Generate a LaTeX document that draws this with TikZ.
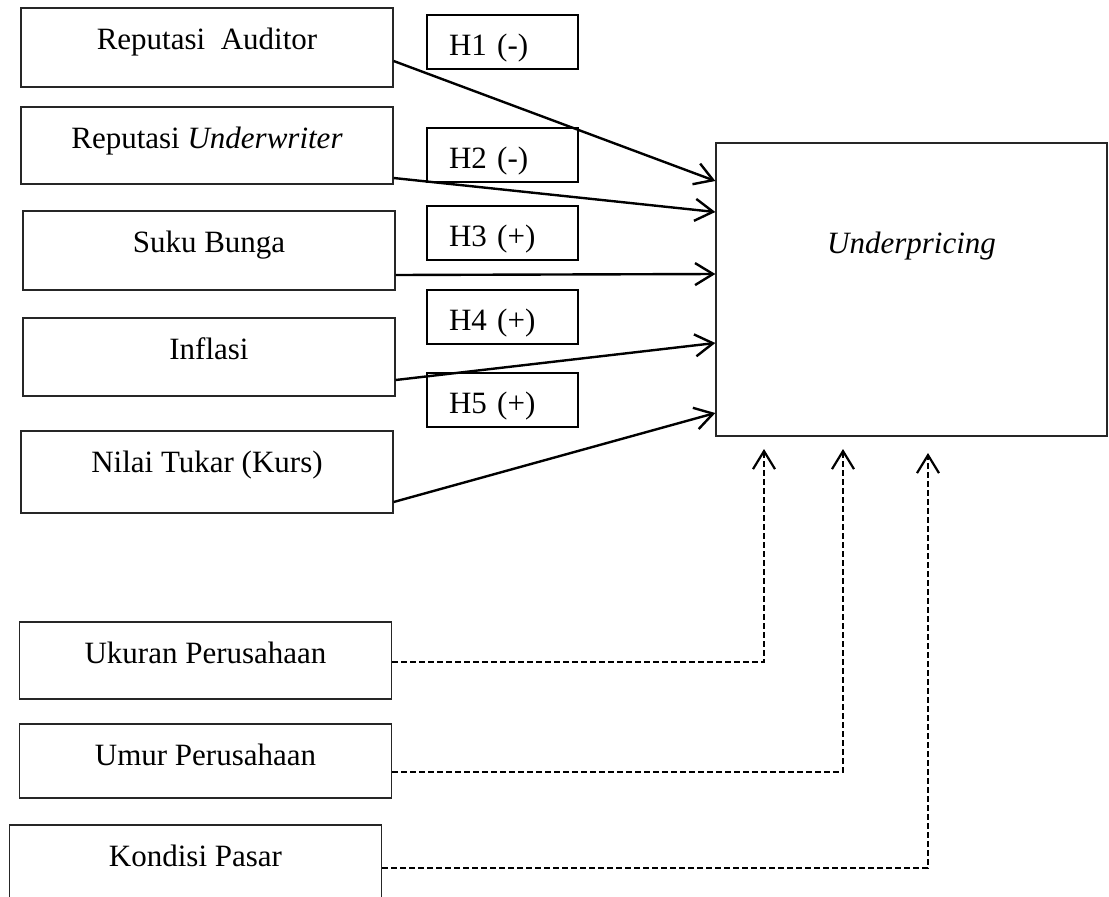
\documentclass[tikz,border=0pt]{standalone}
\usepackage{fontspec}
\setmainfont{Liberation Serif}
\usetikzlibrary{arrows.meta}

\begin{document}
\begin{tikzpicture}[x=1pt,y=-1pt,
    font=\fontsize{31}{37}\selectfont,
    varbox/.style={draw=black!85,line width=1.3pt,minimum width=372pt,inner ysep=0pt,text height=41pt,text depth=#1},
    hypbox/.style={draw,line width=1.6pt,text width=107pt,inner xsep=22pt,inner ysep=0pt,align=left,text height=40pt,text depth=14pt},
    arr/.style={line width=2.4pt,-{Straight Barb[length=18pt,width=22pt]}},
    darr/.style={arr,line width=2.2pt,dash pattern=on 6pt off 3pt}]
    \useasboundingbox (0,0) rectangle (1109,897);

    % variabel independen
    \node[varbox=38pt] (aud) at (207,47.5) {Reputasi\ \ Auditor};
    \node[varbox=36pt] (uw) at (207,145.5) {Reputasi \textit{Underwriter}};
    \node[varbox=38pt] (suku) at (209,250.5) {Suku Bunga};
    \node[varbox=37pt] (inf) at (209,357) {Inflasi};
    \node[varbox=41pt] (kurs) at (207,472) {Nilai Tukar (Kurs)};

    % variabel kontrol
    \node[varbox=36pt] (uk) at (205.5,660.5) {Ukuran Perusahaan};
    \node[varbox=33pt] (umur) at (205.5,761) {Umur Perusahaan};
    \node[varbox=37pt] (pasar) at (195.5,864) {Kondisi Pasar};

    % variabel dependen
    \node[draw=black!85,line width=1.3pt,minimum width=391pt,inner ysep=0pt,text height=110pt,text depth=183pt] (up) at (911.5,289.5) {\textit{Underpricing}};

    \foreach \n/\y/\s in {1/42/-,2/155/-,3/233/+,4/317/+,5/400/+} {
        \node[hypbox] (h\n) at (502.5,\y) {H\n{} (\s)};
    }

    \draw[arr] ([yshift=-13.5pt]aud.east) -- ([yshift=108.5pt]up.west);
    \draw[arr] ([yshift=-32.5pt]uw.east) -- ([yshift=77.5pt]up.west);
    \draw[arr] ([yshift=-24.5pt]suku.east) -- ([yshift=15.5pt]up.west);
    \draw[arr] ([yshift=-23pt]inf.east) -- ([yshift=-53.5pt]up.west);
    \draw[arr] ([yshift=-30pt]kurs.east) -- ([yshift=-123.5pt]up.west);

    \coordinate (t1) at (764,449);
    \coordinate (t2) at (843,449);
    \coordinate (t3) at (928,453);
    \draw[darr] ([yshift=-1.5pt]uk.east) -| (t1);
    \draw[darr] ([yshift=-11pt]umur.east) -| (t2);
    \draw[darr] ([yshift=-4pt]pasar.east) -| (t3);
\end{tikzpicture}
\end{document}
